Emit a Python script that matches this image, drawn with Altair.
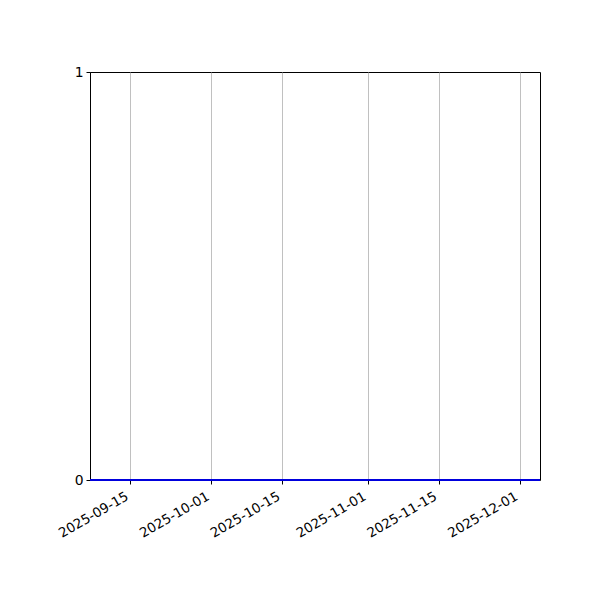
import altair as alt
import pandas as pd

dates = ["2025-09-07T00:00:00Z", "2025-12-05T00:00:00Z"]
values = [0, 0]
tick_dates = [(2025, 9, 15), (2025, 10, 1), (2025, 10, 15), (2025, 11, 1), (2025, 11, 15), (2025, 12, 1)]

df = pd.DataFrame({"date": dates, "value": values})

x_ticks = [alt.DateTime(year=y, month=m, date=d, utc=True) for (y, m, d) in tick_dates]

chart = alt.Chart(df).mark_line(color="#0000dd", strokeWidth=1.8, clip=False).encode(
    x=alt.X("date:T",
            scale=alt.Scale(type="utc", domain=[alt.DateTime(year=2025, month=9, date=7, utc=True),
                                                alt.DateTime(year=2025, month=12, date=5, utc=True)]),
            axis=alt.Axis(values=x_ticks, format="%Y-%m-%d", title=None, grid=True,
                          gridColor="#b0b0b0", gridWidth=0.8, labelOverlap=False,
                          labelAngle=-30, labelAlign="right", labelBaseline="top",
                          labelPadding=5, labelOffset=-7, labelFontSize=13.4,
                          tickSize=4, tickColor="black", domain=False,
                          labelColor="black")),
    y=alt.Y("value:Q", scale=alt.Scale(domain=[0, 1], nice=False, zero=False),
            axis=alt.Axis(values=[0, 1], format="d", title=None, grid=False, tickSize=4,
                          tickColor="black", domainColor="black", labelColor="black",
                          labelPadding=3)),
).properties(
    width=450, height=408,
    autosize=alt.AutoSizeParams(type="none"),
    padding={"left": 82, "top": 64, "right": 52, "bottom": 112},
).configure_view(
    stroke="black", strokeWidth=1
).configure_axis(
    labelFont="DejaVu Sans", labelFontSize=13.9
)

chart.save("out.html", embed_options={"renderer": "svg", "actions": False})
